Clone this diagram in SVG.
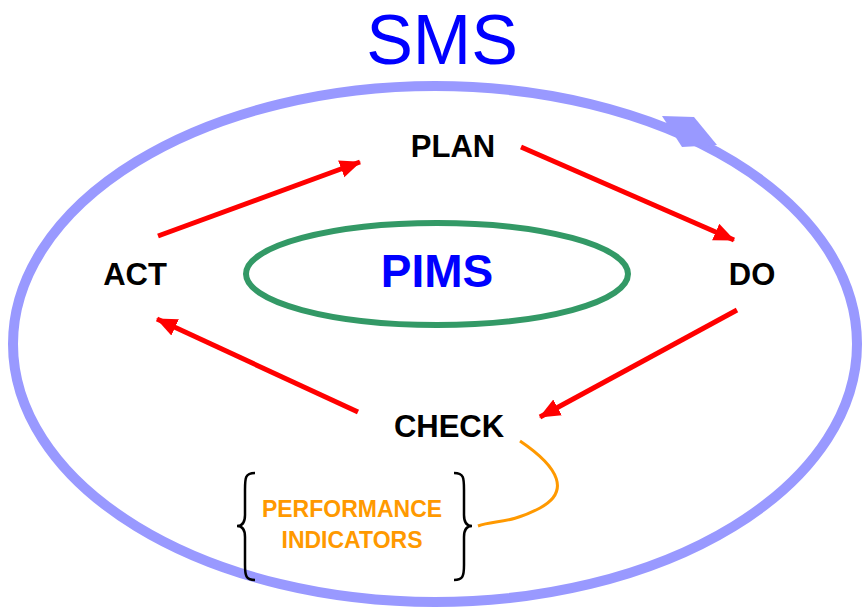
<svg xmlns="http://www.w3.org/2000/svg" width="862" height="609" viewBox="0 0 862 609">
<style>
.lbl{font-family:"Liberation Sans",Arial,sans-serif;font-weight:bold;fill:#000;font-size:31px;text-anchor:middle}
.pi{font-family:"Liberation Sans",Arial,sans-serif;font-weight:bold;fill:#ff9900;font-size:23px;text-anchor:middle}
.red{stroke:#ff0000;stroke-width:5;fill:none;marker-end:url(#ah)}
.brace{stroke:#000;stroke-width:2.5;fill:none}
</style>
<defs>
<marker id="ah" markerUnits="userSpaceOnUse" markerWidth="24" markerHeight="20" refX="20" refY="9" orient="auto">
<path d="M0,0 L21,9 L0,18 Z" fill="#ff0000"/>
</marker>
</defs>
<rect width="862" height="609" fill="#fff"/>
<g id="sms">
<ellipse cx="435" cy="344" rx="422" ry="258" fill="none" stroke="#9999ff" stroke-width="10"/>
<path d="M662,116 L694,117 L717,145 L682,147 Z" fill="#9999ff"/>
<text x="442" y="64" font-family="'Liberation Sans',Arial,sans-serif" font-size="70" fill="#0000ff" text-anchor="middle">SMS</text>
</g>
<g id="pims">
<ellipse cx="437" cy="274" rx="191" ry="51" fill="none" stroke="#339966" stroke-width="6"/>
<text x="437" y="287" font-family="'Liberation Sans',Arial,sans-serif" font-weight="bold" font-size="46" fill="#0000ff" text-anchor="middle">PIMS</text>
</g>
<g id="plan"><text class="lbl" x="453" y="157">PLAN</text></g>
<g id="do"><text class="lbl" x="752" y="285">DO</text></g>
<g id="check"><text class="lbl" x="449" y="437">CHECK</text></g>
<g id="act"><text class="lbl" x="135" y="285">ACT</text></g>
<g id="indicators">
<path class="brace" d="M255,473 C245,473 245,478 245,490 L245,515 C245,522 242,526 237,526 C242,526 245,530 245,537 L245,565 C245,576 246,580 255,580"/>
<path class="brace" d="M454,473 C464,473 464,478 464,490 L464,515 C464,522 467,526 472,526 C467,526 464,530 464,537 L464,565 C464,576 463,580 454,580"/>
<text class="pi" x="352" y="517">PERFORMANCE</text>
<text class="pi" x="352" y="548">INDICATORS</text>
</g>
<g id="connectors">
<path class="red" d="M158,236 L360,162"/>
<path class="red" d="M521,147 L734,240"/>
<path class="red" d="M737,310 L540,417"/>
<path class="red" d="M358,412 L157,319"/>
<path d="M520,441 C560,468 570,492 540,508 S495,520 478,526" fill="none" stroke="#ff9900" stroke-width="3"/>
</g>
</svg>
